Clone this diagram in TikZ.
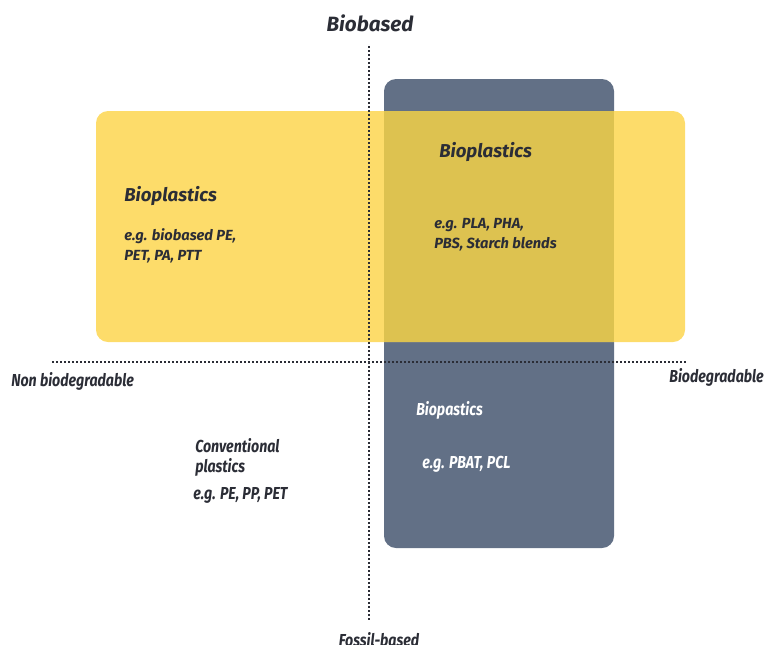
\documentclass[tikz,border=0pt]{standalone}
\usepackage{fontspec}
\setmainfont{Fira Sans}
\newfontfamily\condfont[FakeStretch=0.82]{Fira Sans}
\definecolor{ink}{HTML}{2B2D36}
\definecolor{sun}{HTML}{FDDC6A}
\definecolor{slate}{HTML}{627086}
\definecolor{mixed}{HTML}{DDC250}
\begin{document}
\begin{tikzpicture}
  [x=0.75pt,y=-0.75pt,
   every node/.style={inner sep=0pt,text=ink,font=\bfseries\itshape},
   axis/.style={line width=1.5pt,dash pattern=on 1.5pt off 1.5pt,ink},
   big/.style={font=\fontsize{14}{16}\selectfont\bfseries\itshape},
   small/.style={font=\fontsize{11}{15}\selectfont\bfseries\itshape,align=left},
   narrow/.style={font=\fontsize{13}{15}\selectfont\condfont\bfseries\itshape,align=left}]
  \useasboundingbox (0,0) rectangle (765,644);

  % boxes
  \fill[slate,rounded corners=9pt] (384,79) rectangle (614,548);
  \fill[sun,rounded corners=9pt] (96,111) rectangle (685,342);
  \fill[mixed] (384,111) rectangle (614,342);

  % axes
  \coordinate (top) at (369,46);
  \coordinate (bottom) at (369,622);
  \coordinate (left) at (52,362);
  \coordinate (right) at (688,362);
  \draw[axis] (top) -- (bottom);
  \draw[axis] (left) -- (right);

  \node (bio) [font=\fontsize{15.5}{18}\selectfont\bfseries\itshape] at (370,23) {Biobased};
  \node (fossil) [narrow,anchor=north] at (379,632) {Fossil-based};
  \node (nonbio) [narrow,anchor=west] at (11,381) {Non biodegradable};
  \node (biodeg) [narrow,anchor=east] at (764,377) {Biodegradable};

  \node (bp1) [big,anchor=west] at (124,196) {Bioplastics};
  \node (ex1) [small,anchor=north west] at (124,228) {e.g. biobased PE,\\PET, PA, PTT};
  \node (bp2) [big,anchor=west] at (439,152) {Bioplastics};
  \node (ex2) [small,anchor=north west] at (434,218) {e.g. PLA, PHA,\\PBS, Starch blends};
  \node (bp3) [narrow,text=white,anchor=west] at (416,410) {Biopastics};
  \node (ex3) [narrow,text=white,anchor=west] at (422,464) {e.g. PBAT, PCL};
  \node (conv) [narrow,anchor=north west] at (195,438) {Conventional\\plastics};
  \node (ex4) [narrow,anchor=west] at (193,495) {e.g. PE, PP, PET};
\end{tikzpicture}
\end{document}
